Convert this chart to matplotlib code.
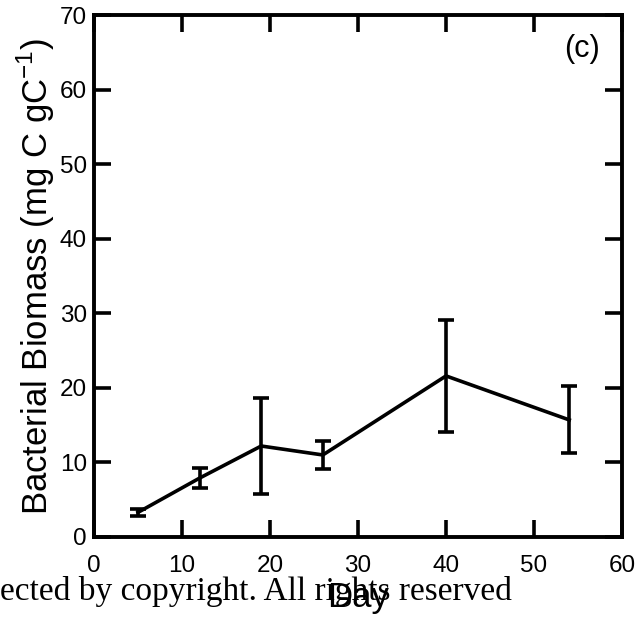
import matplotlib
matplotlib.use("Agg")
import matplotlib.pyplot as plt

# bacterial biomass over the incubation, mean +/- error
day = [5, 12, 19, 26, 40, 54]
biomass = [3.3, 7.9, 12.2, 11.0, 21.6, 15.7]
err = [0.5, 1.35, 6.5, 1.9, 7.5, 4.5]

plt.rcParams["font.family"] = ["Liberation Sans", "DejaVu Sans"]

fig = plt.figure(figsize=(6.37, 6.18), dpi=100)
ax = fig.add_axes([0.1476, 0.1311, 0.9765 - 0.1476, 0.9757 - 0.1311])

ax.errorbar(day, biomass, yerr=err, color="black", lw=2.6, elinewidth=2.6,
            capsize=6, capthick=2.6)

ax.set_xlim(0, 60)
ax.set_ylim(0, 70)
ax.set_xticks(range(0, 61, 10))
ax.set_yticks(range(0, 71, 10))
for s in ax.spines.values():
    s.set_linewidth(2.8)
ax.tick_params(direction="in", length=12, width=2.6, labelsize=17.5,
               top=True, right=True, pad=5)
ax.tick_params(axis="x", pad=13)

ax.set_ylabel(r"Bacterial Biomass (mg C gC$^{\mathregular{-1}}$)", fontsize=25,
              labelpad=2)
ax.set_xlabel("Day", fontsize=25, labelpad=3)
ax.text(0.925, 0.935, "(c)", transform=ax.transAxes, fontsize=22,
        ha="center", va="center")

fig.text(0.0, 0.043, "ected by copyright. All rights reserved",
         fontsize=24, family="Liberation Serif", ha="left", va="center")

fig.savefig("out.png", dpi=100)
